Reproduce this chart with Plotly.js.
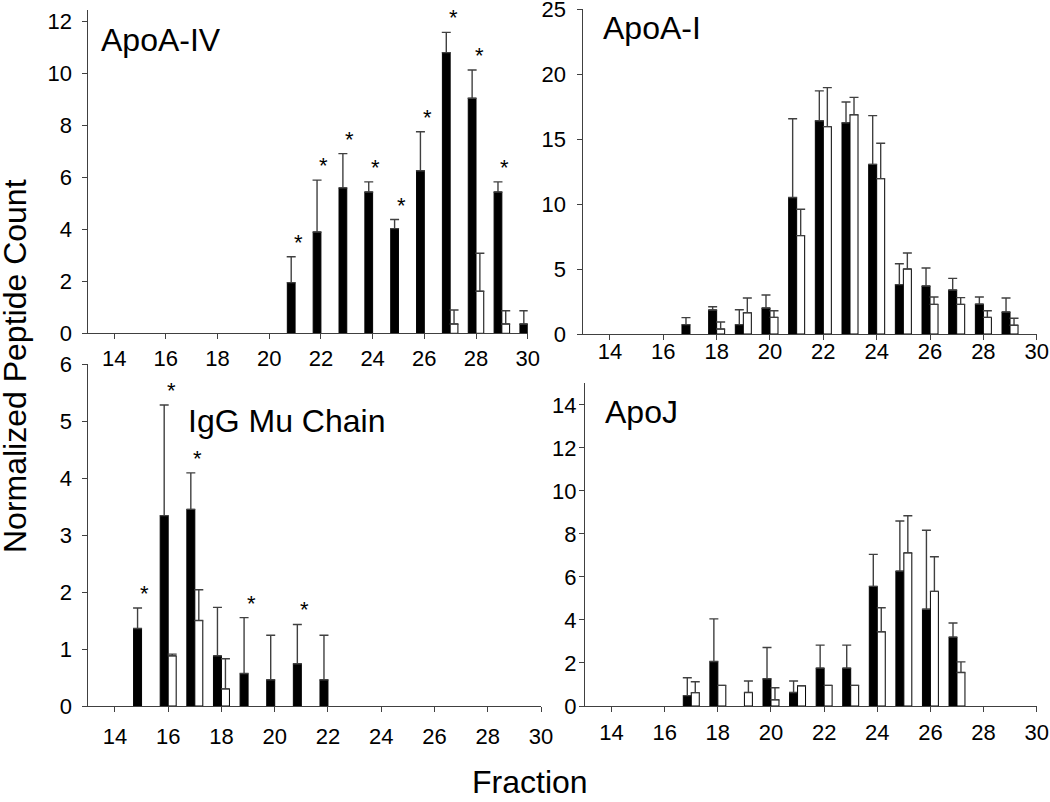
<!DOCTYPE html>
<html>
<head>
<meta charset="utf-8">
<script src="https://cdn.plot.ly/plotly-3.0.1.min.js"></script>
<style>html,body{margin:0;padding:0;background:#fff;}#chart{width:1050px;height:802px;}</style>
</head>
<body>
<div id="chart"></div>
<script>
// ---- Data ----
const panelTitles = ["ApoA-IV", "ApoA-I", "IgG Mu Chain", "ApoJ"];

const fracA4 = [21, 22, 23, 24, 25, 26, 27, 28, 29, 30];
const a4Black = [1.95, 3.9, 5.6, 5.44, 4.03, 6.26, 10.81, 9.05, 5.44, 0.36];
const a4BlackErr = [1.0, 2.0, 1.32, 0.39, 0.35, 1.5, 0.78, 1.09, 0.39, 0.51];
const a4White = [0, 0, 0, 0, 0, 0, 0.36, 1.62, 0.36, 0];
const a4WhiteErr = [0, 0, 0, 0, 0, 0, 0.54, 1.46, 0.51, 0];
const a4Sig = [21, 22, 23, 24, 25, 26, 27, 28, 29];

const fracA1 = [17, 18, 19, 20, 21, 22, 23, 24, 25, 26, 27, 28, 29];
const a1Black = [0.72, 1.85, 0.72, 2.0, 10.5, 16.4, 16.25, 13.05, 3.8, 3.69, 3.38, 2.3, 1.69];
const a1BlackErr = [0.54, 0.25, 1.15, 1.0, 6.06, 2.3, 1.6, 3.75, 1.6, 1.39, 0.9, 0.55, 1.08];
const a1White = [0, 0.38, 1.64, 1.28, 7.57, 15.95, 16.87, 11.95, 5.0, 2.28, 2.28, 1.28, 0.67];
const a1WhiteErr = [0, 0.54, 1.13, 0.51, 2.03, 3.0, 1.33, 2.72, 1.23, 0.57, 0.52, 0.51, 0.54];
const a1Sig = [];

const fracMu = [15, 16, 17, 18, 19, 20, 21, 22];
const muBlack = [1.36, 3.34, 3.45, 0.88, 0.57, 0.46, 0.74, 0.46];
const muBlackErr = [0.36, 1.94, 0.64, 0.85, 0.98, 0.78, 0.69, 0.78];
const muWhite = [0, 0.88, 1.5, 0.3, 0, 0, 0, 0];
const muWhiteErr = [0, 0.03, 0.54, 0.53, 0, 0, 0, 0];
const muSig = [15, 16, 17, 19, 21];

const fracJ = [17, 18, 19, 20, 21, 22, 23, 24, 25, 26, 27];
const jBlack = [0.48, 2.07, 0, 1.27, 0.63, 1.76, 1.76, 5.56, 6.27, 4.5, 3.2];
const jBlackErr = [0.83, 1.98, 0, 1.45, 0.53, 1.07, 1.07, 1.49, 2.33, 3.67, 0.66];
const jWhite = [0.62, 0.96, 0.63, 0.29, 0.94, 0.96, 0.96, 3.45, 7.12, 5.33, 1.56];
const jWhiteErr = [0.51, 0, 0.53, 0.56, 0, 0, 0, 1.12, 1.72, 1.61, 0.49];
const jSig = [];

const xTickVals = [14, 16, 18, 20, 22, 24, 26, 28, 30];
const yMaxes = [12.45, 25, 6, 15];
const yDticks = [2, 5, 1, 2];

// ---- Build ----
const FONT = "Liberation Sans, Arial, Helvetica, sans-serif";
const AXC = "#404040";
const W = 1050, H = 802;
const TICKSIZE = 22;

const panels = [
  {frac: fracA4, b: a4Black, be: a4BlackErr, w: a4White, we: a4WhiteErr, sig: a4Sig},
  {frac: fracA1, b: a1Black, be: a1BlackErr, w: a1White, we: a1WhiteErr, sig: a1Sig},
  {frac: fracMu, b: muBlack, be: muBlackErr, w: muWhite, we: muWhiteErr, sig: muSig},
  {frac: fracJ, b: jBlack, be: jBlackErr, w: jWhite, we: jWhiteErr, sig: jSig}
];

// pixel boxes of plot areas [left, right, top, bottom]
const boxes = [
  [88.3, 527.7, 10, 333.3],
  [583.3, 1036.7, 9, 334],
  [88.3, 541, 364, 706],
  [585, 1036.7, 383.3, 706]
];
const xStandoff = [0, -7, 6, 2];
const yStandoff = [6, 7, 6, -2];
const titlePos = [[99, 20], [601, 8], [186, 401], [603, 392]];

const traces = [];
const annotations = [];
const layout = {
  width: W, height: H,
  margin: {l: 0, r: 0, t: 0, b: 0},
  paper_bgcolor: "#fff", plot_bgcolor: "rgba(0,0,0,0)",
  showlegend: false,
  barmode: "overlay",
  font: {family: FONT, color: "#000", size: TICKSIZE}
};

function filt(frac, vals, errs) {
  const x = [], y = [], e = [], em = [];
  frac.forEach((f, i) => {
    if (vals[i] > 0) {
      x.push(f); y.push(vals[i]);
      e.push(errs[i] > 0 ? errs[i] : null);
      em.push(errs[i] > 0 ? 0 : null);
    }
  });
  return {x, y, e, em};
}

panels.forEach((p, k) => {
  const n = k + 1;
  const xa = n === 1 ? "x" : "x" + n;
  const ya = n === 1 ? "y" : "y" + n;
  const bx = boxes[k];
  const blk = filt(p.frac, p.b, p.be);
  const wht = filt(p.frac, p.w, p.we);
  const errStyle = (d) => ({type: "data", symmetric: false, array: d.e, arrayminus: d.em,
    color: AXC, thickness: 1.4, width: 4.5});
  traces.push({
    type: "bar", x: blk.x, y: blk.y, xaxis: xa, yaxis: ya,
    width: 0.3, offset: -0.3,
    marker: {color: "#000", line: {color: "#000", width: 1}},
    error_y: errStyle(blk), hoverinfo: "x+y"
  });
  traces.push({
    type: "bar", x: wht.x, y: wht.y, xaxis: xa, yaxis: ya,
    width: 0.3, offset: 0,
    marker: {color: "#fff", line: {color: "#000", width: 1}},
    error_y: errStyle(wht), hoverinfo: "x+y"
  });

  const xKey = n === 1 ? "xaxis" : "xaxis" + n;
  const yKey = n === 1 ? "yaxis" : "yaxis" + n;
  layout[xKey] = {
    domain: [bx[0] / W, bx[1] / W], anchor: ya,
    range: [13, 30], tickvals: xTickVals, ticktext: xTickVals.map(String),
    ticks: "outside", ticklen: 5, tickwidth: 1, tickcolor: AXC,
    showline: true, linecolor: AXC, linewidth: 1,
    showgrid: false, zeroline: false, fixedrange: true,
    ticklabelstandoff: xStandoff[k], ticklabeloverflow: "allow",
    tickfont: {family: FONT, size: TICKSIZE, color: "#000"}
  };
  const yt = [];
  for (let v = 0; v <= yMaxes[k] + 1e-9; v += yDticks[k]) yt.push(v);
  layout[yKey] = {
    domain: [1 - bx[3] / H, 1 - bx[2] / H], anchor: xa,
    range: [0, yMaxes[k]], tickvals: yt, ticktext: yt.map(String),
    ticks: "outside", ticklen: 5, tickwidth: 1, tickcolor: AXC,
    showline: true, linecolor: AXC, linewidth: 1,
    showgrid: false, zeroline: false, fixedrange: true,
    ticklabelstandoff: yStandoff[k], ticklabeloverflow: "allow",
    tickfont: {family: FONT, size: TICKSIZE, color: "#000"}
  };

  // panel title
  annotations.push({
    xref: "paper", yref: "paper",
    x: titlePos[k][0] / W, y: 1 - titlePos[k][1] / H,
    xanchor: "left", yanchor: "top", showarrow: false,
    text: panelTitles[k], font: {family: FONT, size: 32, color: "#000"}
  });

  // significance asterisks
  p.sig.forEach(f => {
    const i = p.frac.indexOf(f);
    annotations.push({
      xref: xa, yref: ya, x: f, y: p.b[i] + p.be[i],
      xanchor: "center", yanchor: "bottom", xshift: 3, yshift: 0,
      showarrow: false, text: "*", font: {family: FONT, size: 22, color: "#000"}
    });
  });
});

// axis titles
annotations.push({
  xref: "paper", yref: "paper", x: 15 / W, y: 1 - 366 / H,
  xanchor: "center", yanchor: "middle", textangle: -90, showarrow: false,
  text: "Normalized Peptide Count", font: {family: FONT, size: 32, color: "#000"}
});
annotations.push({
  xref: "paper", yref: "paper", x: 530 / W, y: 1 - 782 / H,
  xanchor: "center", yanchor: "middle", showarrow: false,
  text: "Fraction", font: {family: FONT, size: 32, color: "#000"}
});
layout.annotations = annotations;

Plotly.newPlot("chart", traces, layout, {displayModeBar: false, staticPlot: true});
</script>
</body>
</html>
